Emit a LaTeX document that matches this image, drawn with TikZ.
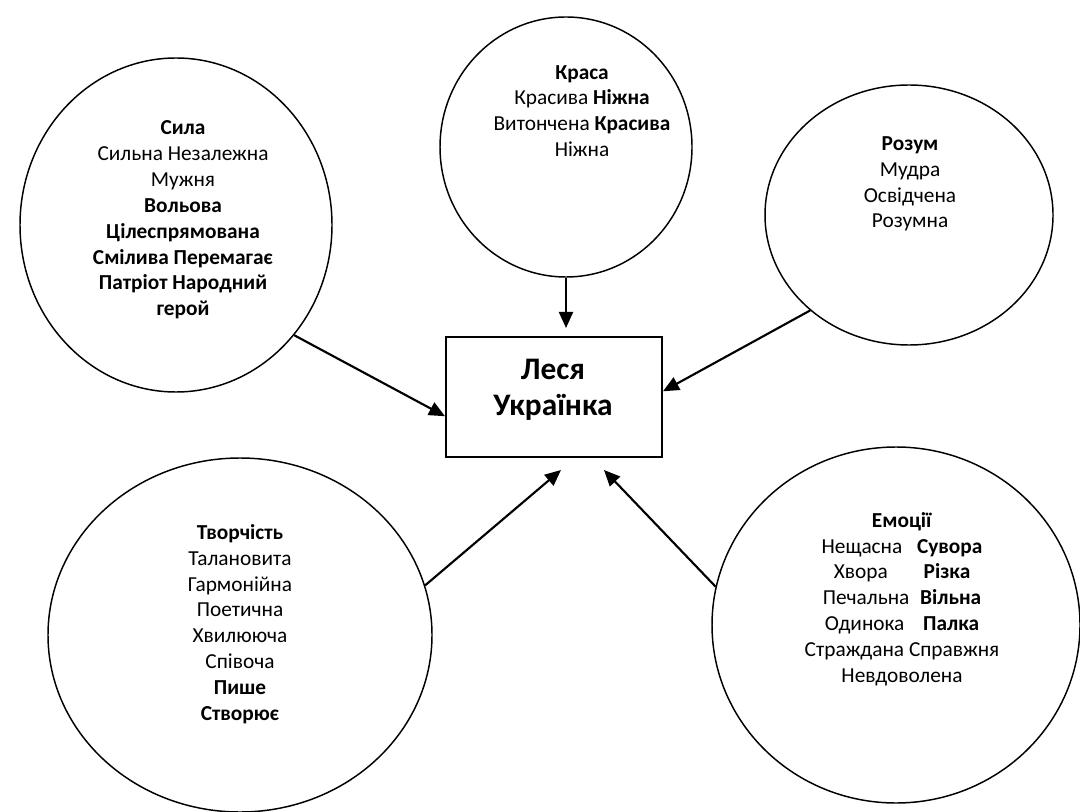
\documentclass[tikz,border=0pt]{standalone}
\usepackage{fontspec}
\setmainfont{Carlito}
\usetikzlibrary{arrows.meta,shapes.geometric}

\begin{document}
\begin{tikzpicture}[x=0.75pt,y=-0.75pt,
  bubble/.style={draw,ellipse,line width=1.1pt,inner sep=0pt},
  words/.style={align=center,font=\fontsize{16}{19.4}\selectfont},
  link/.style={-{Triangle[length=12pt,width=10.5pt]},line width=1.6pt}]
\useasboundingbox (0,0) rectangle (1080,812);

% centre box
\node[draw,line width=1.5pt,minimum width=162pt,minimum height=90pt] (lesya) at (554,397) {};
\node[align=center,font=\fontsize{23.5}{27}\selectfont\bfseries] (lesyatext) at (553,390) {Леся\\Українка};

% circles
\node[bubble,minimum width=234pt,minimum height=250.5pt] (sila) at (176,225) {};
\node[bubble,minimum width=189pt,minimum height=195pt] (kraca) at (566,147) {};
\node[bubble,minimum width=216pt,minimum height=195pt] (rozum) at (909,215) {};
\node[bubble,minimum width=288pt,minimum height=265.5pt] (tvorch) at (240,635) {};
\node[bubble,minimum width=276pt,minimum height=267pt] (emoc) at (896,625) {};

% texts in the circles
\node[words] (silatext) at (183,220) {\textbf{Сила}\\Сильна Незалежна\\Мужня\\\textbf{Вольова}\\
  \textbf{Цілеспрямована}\\\textbf{Смілива Перемагає}\\\textbf{Патріот Народний}\\\textbf{герой}};
\node[words] (kracatext) at (582,111) {\textbf{Краса}\\Красива \textbf{Ніжна}\\Витончена \textbf{Красива}\\Ніжна};
\node[words] (rozumtext) at (910,184) {\textbf{Розум}\\Мудра\\Освідчена\\Розумна};
\node[words] (tvorchtext) at (240,624) {\textbf{Творчість}\\Талановита\\Гармонійна\\Поетична\\
  Хвилююча\\Співоча\\\textbf{Пише}\\\textbf{Створює}};
\node[words] (emoctext) at (902,599) {\textbf{Емоції}\\Нещасна\hspace{11pt}\textbf{Сувора}\\
  Хвора\hspace{27pt}\textbf{Різка}\\Печальна\hspace{8pt}\textbf{Вільна}\\
  Одинока\hspace{14pt}\textbf{Палка}\\Страждана Справжня\\Невдоволена};

% arrows
\coordinate (tip4) at (561,470);
\coordinate (tip5) at (604,470);
\draw[link] (sila.-43) -- (lesya.190);
\draw[link,shorten >=6pt] (kraca.south) -- (kraca.south |- lesya.north);
\draw[link] (rozum.224) -- (lesya.3);
\draw[link] (tvorch.15) -- (tip4);
\draw[link] (emoc.168) -- (tip5);

\end{tikzpicture}
\end{document}
